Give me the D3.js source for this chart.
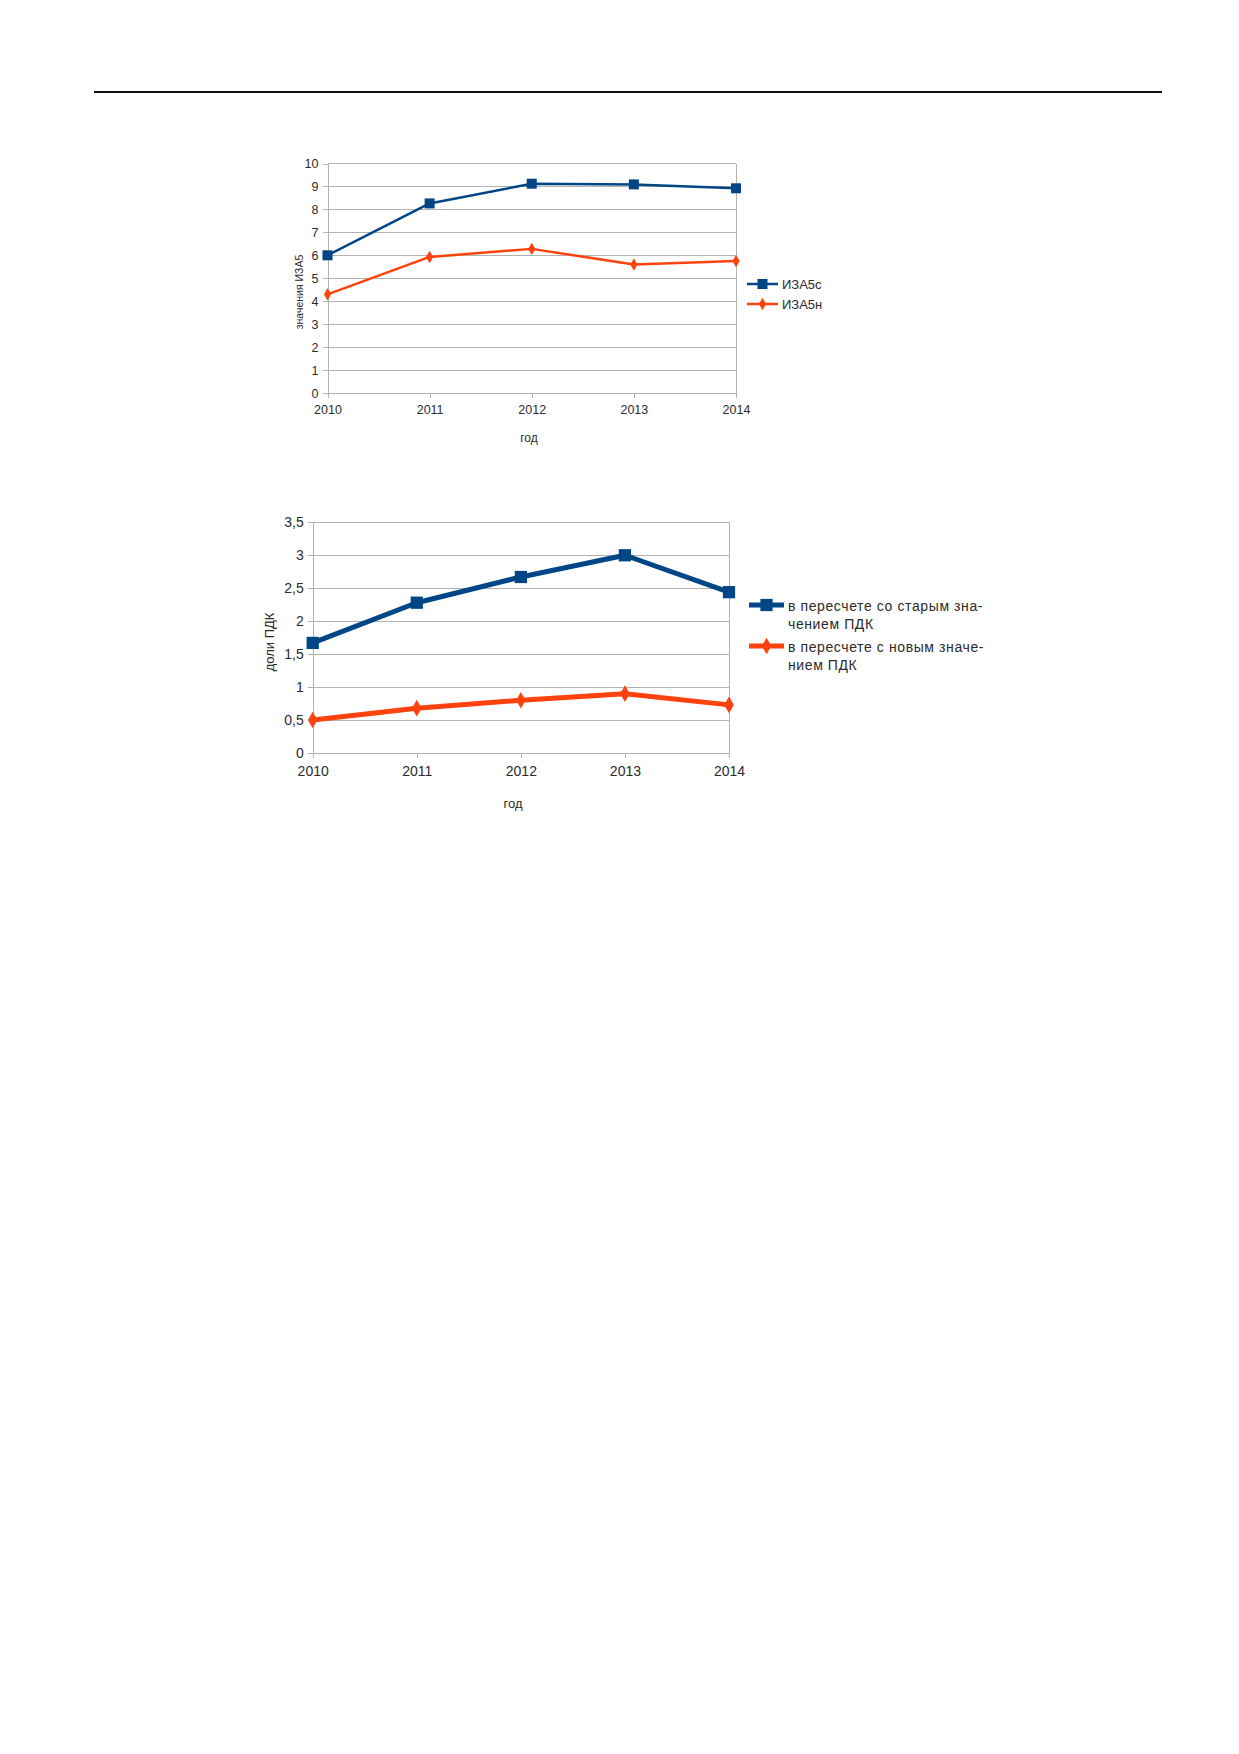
<!DOCTYPE html>
<html lang="ru">
<head>
<meta charset="UTF-8">
<title>ИЗА5 и доли ПДК</title>
<script src="https://d3js.org/d3.v7.min.js"></script>
<style>
  body { margin: 0; background: #fff; }
  svg text { font-family: "Liberation Sans", Arial, sans-serif; fill: #2b2b2b; }
  .grid line { stroke: #b3b3b3; stroke-width: 1px; shape-rendering: crispEdges; }
  .axis path, .axis line { stroke: #b3b3b3; stroke-width: 1px; shape-rendering: crispEdges; }
</style>
</head>
<body>
<svg id="page" width="1239" height="1754"></svg>
<script>
// data
const years = [2010, 2011, 2012, 2013, 2014];

// top chart: ИЗА5 values
const izaOld = [6.0, 8.26, 9.12, 9.09, 8.92];
const izaNew = [4.3, 5.93, 6.28, 5.6, 5.75];
const izaTicks = [0, 1, 2, 3, 4, 5, 6, 7, 8, 9, 10];
const izaNames = [["ИЗА5с"], ["ИЗА5н"]];

// bottom chart: доли ПДК
const pdkOld = [1.67, 2.28, 2.67, 3.0, 2.44];
const pdkNew = [0.5, 0.68, 0.8, 0.9, 0.73];
const pdkTicks = [0, 0.5, 1, 1.5, 2, 2.5, 3, 3.5];
const pdkNames = [
    ["в пересчете со старым зна-", "чением ПДК"],
    ["в пересчете с новым значе-", "нием ПДК"]
];

const blue = "#004586", orange = "#ff420e";
const ru = d3.formatLocale({decimal: ",", thousands: " ", grouping: [3], currency: ["", " руб."]});

let svg = d3.select("#page");

// rule at top of page
svg.append("line")
    .attr("x1", 94).attr("x2", 1162)
    .attr("y1", 92).attr("y2", 92)
    .attr("stroke", "#111").attr("stroke-width", 2.2);

function drawChart(o) {
    let g = svg.append("g");
    let x = d3.scaleLinear().domain([years[0], years[years.length - 1]]).range([o.left, o.right]);
    let y = d3.scaleLinear().domain([0, d3.max(o.ticks)]).range([o.bottom, o.top]);

    // horizontal grid + right border
    let grid = g.append("g").attr("class", "grid");
    grid.selectAll("line.h")
        .data(o.ticks)
        .enter()
        .append("line")
        .attr("class", "h")
        .attr("x1", o.left).attr("x2", o.right)
        .attr("y1", d => y(d)).attr("y2", d => y(d));
    grid.append("line")
        .attr("x1", o.right).attr("x2", o.right)
        .attr("y1", o.top).attr("y2", o.bottom);

    let yAxis = g.append("g")
        .attr("class", "axis")
        .attr("transform", "translate(" + o.left + ",0)")
        .call(d3.axisLeft(y).tickValues(o.ticks).tickFormat(ru.format("~g"))
            .tickSize(5).tickSizeOuter(0).tickPadding(4));
    yAxis.selectAll("text").style("font-size", o.tickFont + "px").attr("fill", "#2b2b2b");

    let xAxis = g.append("g")
        .attr("class", "axis")
        .attr("transform", "translate(0," + o.bottom + ")")
        .call(d3.axisBottom(x).tickValues(years).tickFormat(d3.format("d"))
            .tickSize(5).tickSizeOuter(0).tickPadding(o.xPad));
    xAxis.selectAll("text").style("font-size", o.tickFont + "px").attr("fill", "#2b2b2b");

    // axis titles
    g.append("text")
        .attr("x", o.xTitle[0]).attr("y", o.xTitle[1])
        .attr("text-anchor", "middle")
        .style("font-size", o.titleFont + "px")
        .text("год");
    g.append("text")
        .attr("transform", "translate(" + o.yTitle[0] + "," + o.yTitle[1] + ") rotate(-90)")
        .attr("text-anchor", "middle")
        .style("font-size", o.yTitleFont + "px")
        .text(o.yLabel);

    let line = d3.line().x((d, i) => x(years[i])).y(d => y(d));
    let series = [
        {values: o.old, color: blue, symbol: d3.symbolSquare, size: o.sq},
        {values: o.nw, color: orange, symbol: d3.symbolDiamond, size: o.dm}
    ];

    series.forEach(function (s, k) {
        g.append("path")
            .datum(s.values)
            .attr("d", line)
            .attr("fill", "none")
            .attr("stroke", s.color)
            .attr("stroke-width", o.lw)
            .attr("stroke-linejoin", "round");
        g.selectAll(null)
            .data(s.values)
            .enter()
            .append("path")
            .attr("transform", (d, i) => "translate(" + x(years[i]) + "," + y(d) + ")")
            .attr("d", d3.symbol().type(s.symbol).size(s.size))
            .attr("fill", s.color);

        // legend entry
        let ly = o.legendY[k];
        g.append("line")
            .attr("x1", o.legendX).attr("x2", o.legendX + o.legendW)
            .attr("y1", ly).attr("y2", ly)
            .attr("stroke", s.color).attr("stroke-width", o.lw);
        g.append("path")
            .attr("transform", "translate(" + (o.legendX + o.legendW / 2) + "," + ly + ")")
            .attr("d", d3.symbol().type(s.symbol).size(s.size))
            .attr("fill", s.color);
        let t = g.append("text")
            .attr("x", o.legendX + o.legendW + 4)
            .attr("y", ly + o.legendDy)
            .style("font-size", o.legendFont + "px")
            .style("letter-spacing", o.legendSpacing + "px");
        o.names[k].forEach(function (txt, j) {
            t.append("tspan")
                .attr("x", o.legendX + o.legendW + 4)
                .attr("dy", j === 0 ? 0 : o.legendLine)
                .text(txt);
        });
    });
}

drawChart({
    old: izaOld, nw: izaNew, ticks: izaTicks, names: izaNames,
    left: 327.5, right: 736, top: 163.5, bottom: 393,
    lw: 2.5, sq: 100, dm: 45,
    tickFont: 12.5, xPad: 7, titleFont: 12, yTitleFont: 10.5,
    xTitle: [529, 442], yTitle: [303, 292], yLabel: "значения ИЗА5",
    legendX: 747, legendW: 31, legendY: [284, 304], legendFont: 13, legendDy: 4.5,
    legendSpacing: 0, legendLine: 17
});

drawChart({
    old: pdkOld, nw: pdkNew, ticks: pdkTicks, names: pdkNames,
    left: 312.7, right: 729, top: 522.3, bottom: 753,
    lw: 5, sq: 150, dm: 80,
    tickFont: 14, xPad: 8, titleFont: 13, yTitleFont: 13,
    xTitle: [513, 808], yTitle: [274, 642], yLabel: "доли ПДК",
    legendX: 749, legendW: 35, legendY: [605, 646], legendFont: 14, legendDy: 6,
    legendSpacing: 0.6, legendLine: 18
});
</script>
</body>
</html>
